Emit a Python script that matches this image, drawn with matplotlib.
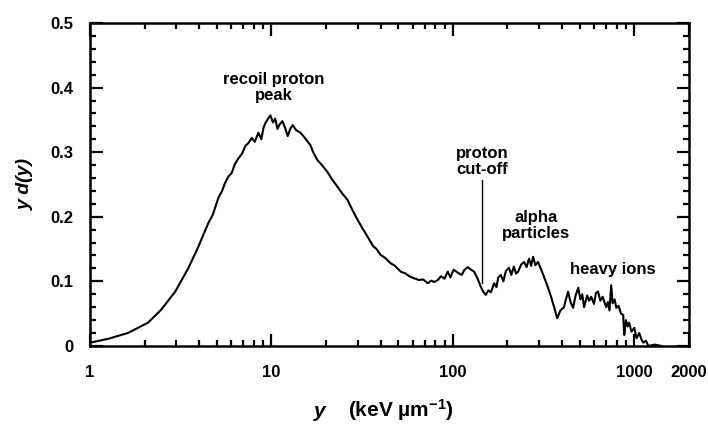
import matplotlib
matplotlib.use("Agg")
import matplotlib.pyplot as plt
from matplotlib.ticker import FixedLocator, FixedFormatter

plt.rcParams['font.family'] = ['Liberation Sans', 'DejaVu Sans']
plt.rcParams['font.weight'] = 'bold'
plt.rcParams['mathtext.fontset'] = 'custom'
plt.rcParams['mathtext.rm'] = 'Liberation Sans:bold'
plt.rcParams['mathtext.bf'] = 'Liberation Sans:bold'
plt.rcParams['mathtext.it'] = 'Liberation Sans:bold:italic'

# lineal energy y (keV/um) and the dose-weighted spectrum y d(y)
lineal_energy = [
    1.0, 1.26, 1.62, 2.09, 2.47, 2.95, 3.48, 3.95, 4.49, 4.75, 4.9, 5.10, 5.35,
    5.55, 5.79, 6.05, 6.3, 6.57, 6.9, 7.2, 7.46, 7.8, 8.1, 8.48, 8.81, 9.05,
    9.27, 9.6, 9.87, 10.2, 10.5, 10.8, 11.1, 11.5, 11.9, 12.3, 12.7, 13.1, 13.7,
    14.5, 15.3, 16.4, 17.0, 17.9, 19.0, 20.4, 21.6, 23.2, 24.6, 26.3, 28.0,
    29.9, 31.8, 33.9, 36.5, 38.0, 40.0, 42.5, 45.4, 48.0, 51.6, 55.0, 57.5,
    60.9, 65.0, 68.5, 72.8, 76.0, 79.0, 82.7, 86.0, 90.0, 93.8, 97.0, 101,
    107, 112, 116, 121, 126, 131, 137, 143, 147, 152, 157, 162, 169, 174, 178,
    184, 190, 196, 204, 210, 217, 223, 229, 238, 247, 255, 263, 270, 277, 285,
    295, 305, 318, 332, 348, 360, 370, 376, 392, 410, 420, 432, 445, 460, 475,
    491, 505, 517, 529, 550, 565, 579, 600, 615, 632, 650, 670, 700, 715, 730,
    746, 760, 780, 796, 820, 845, 869, 875, 881, 900, 920, 938, 965, 1000,
    1030, 1066, 1095, 1122, 1160, 1195, 1300, 1410,
]
yd_of_y = [
    0.005, 0.011, 0.020, 0.036, 0.056, 0.084, 0.120, 0.153, 0.190, 0.203,
    0.214, 0.229, 0.240, 0.252, 0.262, 0.268, 0.282, 0.290, 0.298, 0.310,
    0.314, 0.322, 0.316, 0.330, 0.320, 0.338, 0.345, 0.352, 0.357, 0.346,
    0.352, 0.336, 0.343, 0.348, 0.338, 0.325, 0.336, 0.342, 0.334, 0.330,
    0.322, 0.311, 0.300, 0.288, 0.280, 0.269, 0.258, 0.246, 0.236, 0.226,
    0.210, 0.195, 0.182, 0.169, 0.154, 0.150, 0.141, 0.136, 0.128, 0.124,
    0.115, 0.112, 0.108, 0.105, 0.102, 0.103, 0.097, 0.101, 0.099, 0.102,
    0.108, 0.104, 0.115, 0.106, 0.118, 0.113, 0.110, 0.118, 0.122, 0.118,
    0.115, 0.104, 0.091, 0.084, 0.079, 0.086, 0.083, 0.097, 0.091, 0.106,
    0.110, 0.100, 0.116, 0.121, 0.110, 0.123, 0.112, 0.115, 0.126, 0.130,
    0.122, 0.135, 0.124, 0.138, 0.125, 0.130, 0.120, 0.107, 0.093, 0.076,
    0.062, 0.050, 0.043, 0.055, 0.060, 0.072, 0.084, 0.068, 0.059, 0.078,
    0.090, 0.072, 0.080, 0.060, 0.078, 0.070, 0.076, 0.065, 0.082, 0.084,
    0.070, 0.076, 0.060, 0.068, 0.055, 0.094, 0.066, 0.072, 0.059, 0.062,
    0.050, 0.048, 0.030, 0.017, 0.040, 0.030, 0.036, 0.022, 0.028, 0.012,
    0.020, 0.010, 0.005, 0.008, 0.0, 0.002, 0.0,
]

x_tick_values = [1, 10, 100, 1000, 2000]
x_tick_labels = ['1', '10', '100', '1000', '2000']
y_tick_values = [0, 0.1, 0.2, 0.3, 0.4, 0.5]
y_tick_labels = ['0', '0.1', '0.2', '0.3', '0.4', '0.5']

# proton cut-off marker position and extent
cutoff_y = 145
cutoff_range = [0.0975, 0.257]

fig = plt.figure(figsize=(7.08, 4.26), dpi=100)
ax = fig.add_axes([0.127, 0.188, 0.846, 0.758])

ax.plot(lineal_energy, yd_of_y, color='black', lw=1.5)
ax.plot([cutoff_y, cutoff_y], cutoff_range, color='black', lw=1.0)

ax.set_xscale('log')
ax.set_xlim(1, 2000)
ax.set_ylim(0, 0.5)

ax.xaxis.set_major_locator(FixedLocator(x_tick_values))
ax.xaxis.set_major_formatter(FixedFormatter(x_tick_labels))
minor_x = [m * 10 ** d for d in range(0, 3) for m in range(2, 10)]
ax.xaxis.set_minor_locator(FixedLocator(minor_x))
ax.xaxis.set_minor_formatter(FixedFormatter([''] * len(minor_x)))

ax.yaxis.set_major_locator(FixedLocator(y_tick_values))
ax.yaxis.set_major_formatter(FixedFormatter(y_tick_labels))
ax.yaxis.set_minor_locator(FixedLocator([i * 0.02 for i in range(26)]))

ax.tick_params(which='both', direction='in', top=True, right=True,
               width=1.6, labelsize=12)
ax.tick_params(which='major', length=9)
ax.tick_params(axis='x', which='major', pad=14)
ax.tick_params(axis='y', which='major', pad=12)
ax.tick_params(which='minor', length=4.5)
for lbl in ax.get_xticklabels() + ax.get_yticklabels():
    lbl.set_fontweight('bold')
for sp in ax.spines.values():
    sp.set_linewidth(1.8)

ax.set_ylabel('y d(y)', fontsize=14, fontstyle='italic', fontweight='bold',
              labelpad=12)
fig.text(0.452, 0.022, 'y', fontsize=15, fontstyle='italic',
         fontweight='bold', ha='center', va='baseline')
fig.text(0.492, 0.022, r'(keV µm$^{-1}$)', fontsize=15,
         fontweight='bold', ha='left', va='baseline')

text_kw = dict(fontsize=12, fontweight='bold', ha='center', va='center',
               linespacing=1.1)
ax.text(10.3, 0.40, 'recoil proton\npeak', **text_kw)
ax.text(145, 0.286, 'proton\ncut-off', **text_kw)
ax.text(288, 0.187, 'alpha\nparticles', **text_kw)
ax.text(765, 0.119, 'heavy ions', **text_kw)

fig.savefig('out.png', dpi=100)
